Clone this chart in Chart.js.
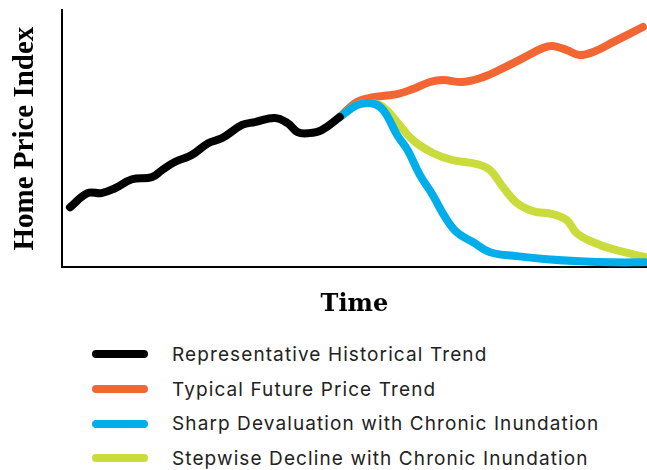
<!DOCTYPE html>
<html>
<head>
<meta charset="utf-8">
<script src="https://cdn.jsdelivr.net/npm/chart.js@4/dist/chart.umd.min.js"></script>
<style>
  body { margin: 0; background: #fff; }
  #wrap { position: relative; width: 647px; height: 470px; }
  #chartBox { position: absolute; left: 0; top: 0; width: 647px; height: 323px; }
  #legend { position: absolute; left: 92px; top: 337px; font-family: Inter, "Noto Sans", sans-serif; font-size: 19px; letter-spacing: 1.1px; color: #222; }
  .item { display: flex; align-items: center; height: 34.7px; }
  .swatch { width: 56px; height: 8px; border-radius: 4px; margin-right: 24px; }
</style>
</head>
<body>
<div id="wrap">
  <div id="chartBox"><canvas id="priceChart"></canvas></div>
  <div id="legend"></div>
</div>
<script>
// series labels and colours (legend order)
const seriesNames = ['Representative Historical Trend', 'Typical Future Price Trend',
    'Sharp Devaluation with Chronic Inundation', 'Stepwise Decline with Chronic Inundation'];
const seriesColors = ['#000000', '#f26633', '#00aeea', '#cadc3c'];

// time positions (0-100) and index values
const histTime = [1.4, 4.4, 6.8, 9.1, 12.0, 15.4, 17.1, 19.3, 22.2, 25.0, 27.4, 30.8, 33.0, 36.4, 38.6, 40.3, 42.1, 44.4, 47.5];
const histValues = [23.3, 28.8, 28.8, 30.7, 34.2, 35.0, 37.7, 40.9, 43.6, 48.2, 50.2, 55.3, 56.4, 58.0, 56.0, 52.5, 52.1, 53.3, 58.4];

const futureTime = [47.5, 50.4, 53.2, 57.3, 60.0, 62.9, 65.1, 68.5, 72.0, 75.4, 78.8, 82.2, 83.9, 86.3, 88.5, 90.8, 94.2, 99.3];
const futureValues = [58.4, 64.2, 66.1, 67.3, 69.3, 72.0, 72.8, 72.0, 73.9, 77.4, 81.3, 85.2, 86.0, 84.4, 82.5, 83.7, 87.5, 93.4];

const sharpTime = [47.5, 50.4, 52.6, 54.4, 55.7, 57.3, 59.1, 61.2, 63.4, 65.5, 67.5, 70.3, 73.2, 77.8, 82.9, 88.5, 94.2, 99.7];
const sharpValues = [58.4, 63.0, 63.8, 62.3, 58.4, 51.4, 45.5, 35.8, 28.0, 19.5, 13.6, 9.7, 5.8, 4.3, 3.1, 2.3, 1.9, 1.9];

const stepTime = [47.5, 50.4, 52.6, 54.9, 57.3, 60.0, 63.4, 66.8, 70.9, 73.2, 75.4, 77.8, 80.5, 83.9, 86.3, 88.0, 90.8, 94.2, 99.7];
const stepValues = [58.4, 63.0, 63.8, 62.3, 56.4, 49.4, 44.4, 41.6, 40.1, 37.7, 31.1, 24.9, 21.8, 20.6, 18.3, 13.2, 9.7, 7.0, 3.9];

const toPoints = (xs, ys) => xs.map((x, i) => ({ x: x, y: ys[i] }));
const allSeries = [
    toPoints(histTime, histValues),
    toPoints(futureTime, futureValues),
    toPoints(sharpTime, sharpValues),
    toPoints(stepTime, stepValues)
];
// black on top, then blue, green, orange at the bottom
const drawOrder = [0, 3, 1, 2];

const ctx = document.getElementById('priceChart');

new Chart(ctx, {
    type: 'line',
    data: {
        datasets: allSeries.map((pts, i) => ({
            label: seriesNames[i],
            data: pts,
            borderColor: seriesColors[i],
            backgroundColor: seriesColors[i],
            borderWidth: 8,
            borderCapStyle: 'round',
            borderJoinStyle: 'round',
            pointRadius: 0,
            tension: 0.4,
            clip: false,
            order: drawOrder[i]
        }))
    },
    options: {
        responsive: true,
        maintainAspectRatio: false,
        animation: false,
        layout: { padding: { left: 8, top: 10, right: 0, bottom: 4 } },
        plugins: {
            legend: { display: false },
            tooltip: { enabled: false }
        },
        scales: {
            x: {
                type: 'linear',
                min: 0,
                max: 100,
                grid: { display: false },
                border: { display: true, color: '#000', width: 2 },
                ticks: { display: false },
                title: {
                    display: true,
                    text: 'Time',
                    color: '#000',
                    font: { family: 'DejaVu Serif', size: 24, weight: 'bold' },
                    padding: { top: 15, bottom: 0 }
                }
            },
            y: {
                min: 0,
                max: 100,
                grid: { display: false },
                border: { display: true, color: '#000', width: 2 },
                ticks: { display: false },
                title: {
                    display: true,
                    text: 'Home Price Index',
                    color: '#000',
                    font: { family: 'Liberation Serif', size: 29, weight: 'bold' },
                    padding: { top: 0, bottom: 11 }
                }
            }
        }
    }
});

// legend, one row per series
const legendBox = document.getElementById('legend');
seriesNames.forEach((name, i) => {
    const row = document.createElement('div');
    row.className = 'item';
    const sw = document.createElement('span');
    sw.className = 'swatch';
    sw.style.background = seriesColors[i];
    const txt = document.createElement('span');
    txt.textContent = name;
    row.appendChild(sw);
    row.appendChild(txt);
    legendBox.appendChild(row);
});
</script>
</body>
</html>
